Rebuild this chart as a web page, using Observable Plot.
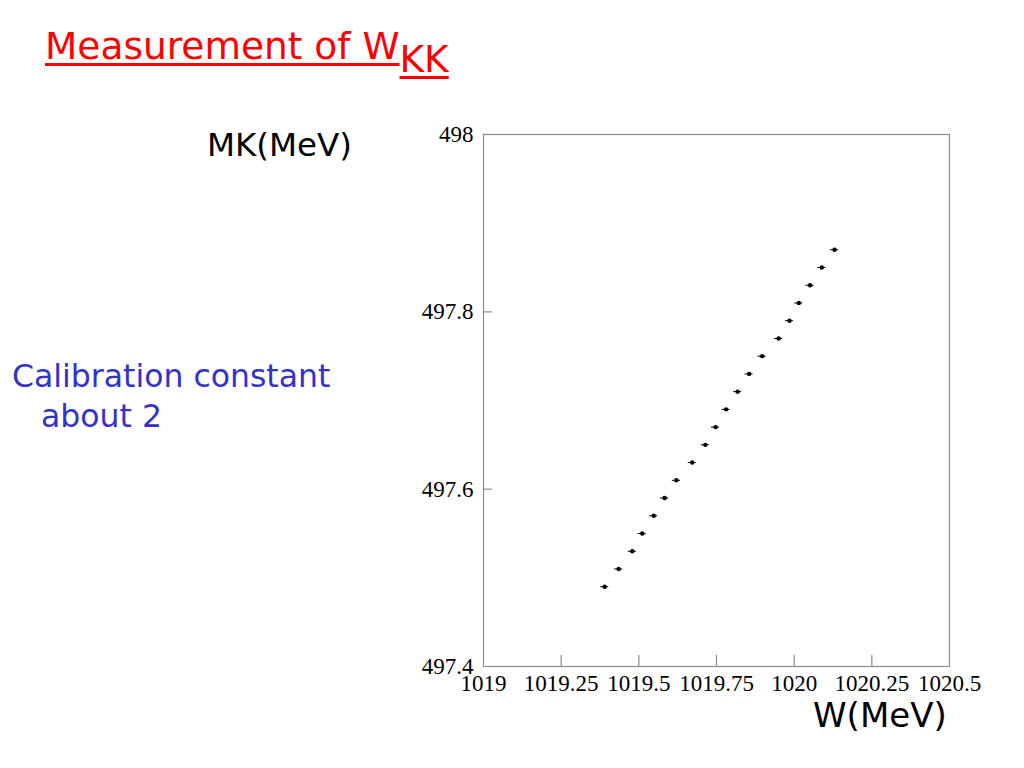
<!DOCTYPE html>
<html>
<head>
<meta charset="utf-8">
<script src="https://cdn.jsdelivr.net/npm/d3@7"></script>
<script src="https://cdn.jsdelivr.net/npm/@observablehq/plot@0.6"></script>
<style>
  html, body { margin: 0; padding: 0; background: #fff; }
  #page { position: relative; width: 1024px; height: 768px; overflow: hidden; }
  #chart { position: absolute; left: 0; top: 0; }
  .note { position: absolute; white-space: nowrap; line-height: 1; font-family: "Comic Sans MS", "DejaVu Sans", sans-serif; }
  #title { left: 45px; top: 28px; font-size: 37.5px; color: #ff0000; }
  #title .u { text-decoration: underline; text-decoration-thickness: 3px; text-underline-offset: 4px; }
  #title sub { font-size: 1em; vertical-align: -13px; line-height: 1; }
  #mk { left: 207px; top: 129px; font-size: 32.5px; color: #000; }
  #cal1 { left: 12px; top: 361px; font-size: 31.5px; color: #3333cc; }
  #cal2 { left: 41px; top: 401px; font-size: 31.5px; color: #3333cc; }
  #w { left: 813px; top: 698px; font-size: 34px; color: #000; }
</style>
</head>
<body>
<div id="page">
  <div id="chart"></div>
  <div class="note" id="title"><span class="u">Measurement of W</span><sub class="u">KK</sub></div>
  <div class="note" id="mk">MK(MeV)</div>
  <div class="note" id="cal1">Calibration constant</div>
  <div class="note" id="cal2">about 2</div>
  <div class="note" id="w">W(MeV)</div>
</div>
<script>
// Data
const wValues = [1019.390, 1019.435, 1019.479, 1019.511, 1019.548, 1019.583, 1019.621, 1019.672, 1019.714, 1019.747,
                 1019.781, 1019.818, 1019.855, 1019.897, 1019.950, 1019.985, 1020.015, 1020.051, 1020.089, 1020.130];
const mkValues = [497.49, 497.51, 497.53, 497.55, 497.57, 497.59, 497.61, 497.63, 497.65, 497.67,
                  497.69, 497.71, 497.73, 497.75, 497.77, 497.79, 497.81, 497.83, 497.85, 497.87];
const wErrors = [0.013, 0.013, 0.013, 0.013, 0.013, 0.013, 0.013, 0.013, 0.013, 0.013,
                 0.013, 0.013, 0.013, 0.013, 0.013, 0.013, 0.013, 0.013, 0.013, 0.013];
const xTickLabels = [1019, 1019.25, 1019.5, 1019.75, 1020, 1020.25, 1020.5];
const yTickLabels = [497.4, 497.6, 497.8, 498];
const xInnerTicks = [1019.25, 1019.5, 1019.75, 1020, 1020.25];
const yInnerTicks = [497.6, 497.8];

const points = wValues.map((w, i) => ({w, mk: mkValues[i], e: wErrors[i]}));

const marginLeft = 483, marginRight = 75, marginTop = 134, marginBottom = 102;
const W = 1024, H = 768;
const innerW = W - marginLeft - marginRight;
const innerH = H - marginTop - marginBottom;

const chart = Plot.plot({
  width: W,
  height: H,
  marginLeft, marginRight, marginTop, marginBottom,
  style: {background: "transparent", color: "#000", fontFamily: "'Liberation Serif', 'Times New Roman', serif"},
  x: {domain: [1019, 1020.5], label: null},
  y: {domain: [497.4, 498], label: null},
  marks: [
    Plot.frame({stroke: "#8c8c8c", strokeWidth: 1.2}),
    Plot.tickX(xInnerTicks, {x: d => d, stroke: "#8c8c8c", strokeWidth: 1.2, insetTop: innerH - 11}),
    Plot.tickY(yInnerTicks, {y: d => d, stroke: "#8c8c8c", strokeWidth: 1.2, insetRight: innerW - 9}),
    Plot.axisX(xTickLabels, {tickSize: 0, tickPadding: 8, fontSize: 23, fill: "#000",
      fontFamily: "'Liberation Serif', serif", tickFormat: d => String(d), label: null}),
    Plot.axisY(yTickLabels, {tickSize: 0, tickPadding: 10, fontSize: 23, fill: "#000",
      fontFamily: "'Liberation Serif', serif", tickFormat: d => String(d), label: null}),
    Plot.ruleY(points, {y: "mk", x1: d => d.w - d.e, x2: d => d.w + d.e, stroke: "#000", strokeWidth: 1}),
    Plot.dot(points, {x: "w", y: "mk", r: 2.2, fill: "#000", stroke: "none"})
  ]
});
document.getElementById("chart").appendChild(chart);
</script>
</body>
</html>
